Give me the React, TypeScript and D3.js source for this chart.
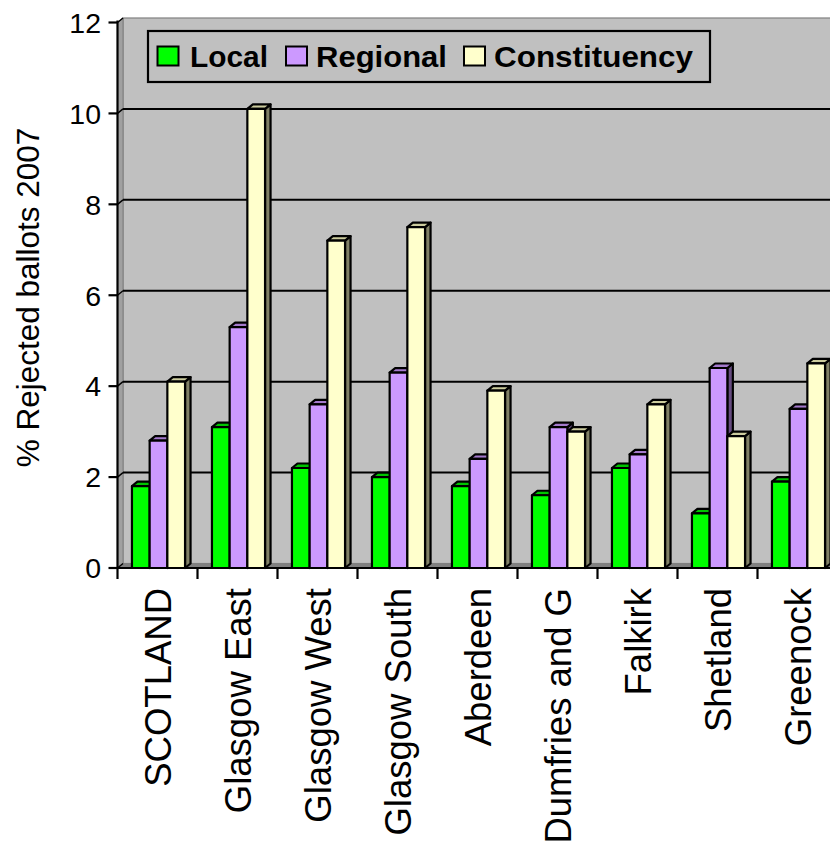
import React from "react";
import * as d3 from "d3";

// Rejected ballots in the 2007 Scottish elections, by area and ballot type
const categories = [
  "SCOTLAND",
  "Glasgow East",
  "Glasgow West",
  "Glasgow South",
  "Aberdeen",
  "Dumfries and G",
  "Falkirk",
  "Shetland",
  "Greenock",
];
const seriesNames = ["Local", "Regional", "Constituency"];
const localValues = [1.8, 3.1, 2.2, 2.0, 1.8, 1.6, 2.2, 1.2, 1.9];
const regionalValues = [2.8, 5.3, 3.6, 4.3, 2.4, 3.1, 2.5, 4.4, 3.5];
const constituencyValues = [4.1, 10.1, 7.2, 7.5, 3.9, 3.0, 3.6, 2.9, 4.5];
const yTicks = [0, 2, 4, 6, 8, 10, 12];
const yTitle = "% Rejected ballots 2007";

const seriesValues = [localValues, regionalValues, constituencyValues];
const frontColors = ["#00ff00", "#cc99ff", "#ffffcc"];
const topColors = ["#00c400", "#a47acc", "#cccc9e"];
const sideColors = ["#008000", "#664c80", "#808066"];

const W = 830;
const H = 848;
const X0 = 117.5;
const STEP = 80;
const Y_BOTTOM = 568;
const Y_TOP = 22.5;
const DX = 5.5; // depth offset of the 3-D box
const DY = 4.5;
const FONT = "'Liberation Sans', Arial, Helvetica, sans-serif";

export default function App() {
  const x = d3
    .scaleBand<string>()
    .domain(categories)
    .range([X0, X0 + STEP * categories.length])
    .padding(0);
  const inner = d3
    .scaleBand<string>()
    .domain(seriesNames)
    .range([0, x.bandwidth()])
    .paddingInner(0)
    .paddingOuter(0.76);
  const y = d3.scaleLinear().domain([0, 12]).range([Y_BOTTOM, Y_TOP]);
  const bw = inner.bandwidth();
  const xEnd = X0 + STEP * categories.length;

  const pts = (p: number[][]) => p.map((q) => q.join(",")).join(" ");

  const bars: React.ReactNode[] = [];
  categories.forEach((c, ci) => {
    seriesNames.forEach((s, si) => {
      const v = seriesValues[si][ci];
      const bx = (x(c) as number) + (inner(s) as number) + 1;
      const yt = y(v);
      const y0 = y(0);
      bars.push(
        <g key={`${c}-${s}`} stroke="#000" strokeWidth={2.2} strokeLinejoin="round">
          <polygon
            points={pts([
              [bx + bw, yt],
              [bx + bw + DX, yt - DY],
              [bx + bw + DX, y0 - DY],
              [bx + bw, y0],
            ])}
            fill={sideColors[si]}
          />
          <polygon
            points={pts([
              [bx, yt],
              [bx + DX, yt - DY],
              [bx + bw + DX, yt - DY],
              [bx + bw, yt],
            ])}
            fill={topColors[si]}
          />
          <rect x={bx} y={yt} width={bw} height={y0 - yt} fill={frontColors[si]} />
        </g>
      );
    });
  });

  // legend layout
  const legendSwatchX = [157.5, 286, 464];
  const legendTextX = [190, 316, 494];
  const legendTextW = [78, 131, 199];

  return (
    <svg
      width={W}
      height={H}
      viewBox={`0 0 ${W} ${H}`}
      style={{ position: "absolute", left: 0, top: 0, background: "#fff" }}
      fontFamily={FONT}
    >
      {/* back wall */}
      <rect
        x={X0 + DX}
        y={Y_TOP - DY}
        width={xEnd - X0 + 20}
        height={Y_BOTTOM - Y_TOP}
        fill="#c0c0c0"
        stroke="#808080"
        strokeWidth={1.2}
      />
      {/* left side wall */}
      <polygon
        points={pts([
          [X0, Y_TOP],
          [X0 + DX, Y_TOP - DY],
          [X0 + DX, Y_BOTTOM - DY],
          [X0, Y_BOTTOM],
        ])}
        fill="#a0a0a0"
        stroke="#808080"
        strokeWidth={1}
      />
      {/* floor */}
      <polygon
        points={pts([
          [X0, Y_BOTTOM],
          [X0 + DX, Y_BOTTOM - DY],
          [xEnd + DX + 20, Y_BOTTOM - DY],
          [xEnd + 20, Y_BOTTOM],
        ])}
        fill="#808080"
        stroke="#808080"
        strokeWidth={1}
      />
      {/* gridlines */}
      {yTicks
        .filter((t) => t > 0 && t < 12)
        .map((t) => (
          <line
            key={`g${t}`}
            x1={X0 + DX}
            x2={W + 10}
            y1={y(t) - DY}
            y2={y(t) - DY}
            stroke="#000"
            strokeWidth={2}
          />
        ))}
      {yTicks.map((t) => (
        <line
          key={`s${t}`}
          x1={X0}
          y1={y(t)}
          x2={X0 + DX}
          y2={y(t) - DY}
          stroke="#000"
          strokeWidth={1.4}
        />
      ))}

      {/* legend */}
      <rect x={148} y={31} width={562} height={51} fill="#c0c0c0" stroke="#000" strokeWidth={2.2} />
      {seriesNames.map((s, i) => (
        <g key={`l${s}`}>
          <rect
            x={legendSwatchX[i]}
            y={46.5}
            width={21}
            height={19}
            fill={frontColors[i]}
            stroke="#000"
            strokeWidth={2}
          />
          <text
            x={legendTextX[i]}
            y={67}
            fontSize={29}
            fontWeight="bold"
            textLength={legendTextW[i]}
            lengthAdjust="spacingAndGlyphs"
            fill="#000"
          >
            {s}
          </text>
        </g>
      ))}

      {/* bars */}
      {bars}

      {/* axes */}
      <line x1={X0} y1={Y_TOP - 2} x2={X0} y2={Y_BOTTOM} stroke="#000" strokeWidth={2.2} />
      <line x1={X0} y1={Y_BOTTOM} x2={W + 10} y2={Y_BOTTOM} stroke="#000" strokeWidth={2.2} />
      {yTicks.map((t) => (
        <g key={`t${t}`}>
          <line x1={X0 - 9} x2={X0} y1={y(t)} y2={y(t)} stroke="#000" strokeWidth={2.2} />
          <text
            x={101}
            y={y(t)}
            dy="0.36em"
            textAnchor="end"
            fontSize={28.5}
            fill="#000"
          >
            {t}
          </text>
        </g>
      ))}
      {d3.range(categories.length + 1).map((i) => (
        <line
          key={`ct${i}`}
          x1={X0 + i * STEP}
          x2={X0 + i * STEP}
          y1={Y_BOTTOM}
          y2={Y_BOTTOM + 11}
          stroke="#000"
          strokeWidth={2.2}
        />
      ))}
      {categories.map((c) => (
        <text
          key={`c${c}`}
          transform={`translate(${(x(c) as number) + x.bandwidth() / 2 + 13},588) rotate(-90)`}
          textAnchor="end"
          fontSize={36.5}
          fill="#000"
        >
          {c}
        </text>
      ))}
      <text
        transform={`translate(39,297.5) rotate(-90)`}
        textAnchor="middle"
        fontSize={31.5}
        fill="#000"
      >
        {yTitle}
      </text>
    </svg>
  );
}
